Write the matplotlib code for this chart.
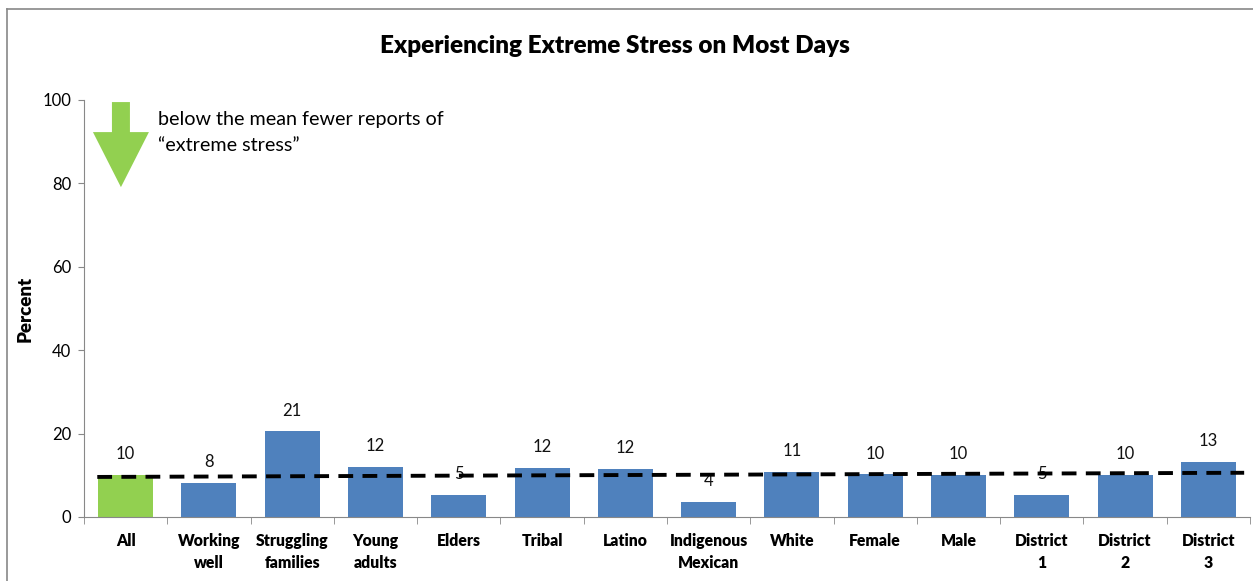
import matplotlib.pyplot as plt
from matplotlib.patches import Polygon
from matplotlib.lines import Line2D

categories = ["All", "Working\nwell", "Struggling\nfamilies", "Young\nadults", "Elders",
              "Tribal", "Latino", "Indigenous\nMexican", "White", "Female", "Male",
              "District\n1", "District\n2", "District\n3"]
values = [10.1, 8.2, 20.5, 12.0, 5.2, 11.8, 11.5, 3.6, 10.8, 10.2, 10.0, 5.3, 10.1, 13.2]
labels = ["10", "8", "21", "12", "5", "12", "12", "4", "11", "10", "10", "5", "10", "13"]
mean_line = [9.6, 10.6]
mean_x = [-0.34, 13.43]

colors = ["#92D050"] + ["#4F81BD"] * (len(categories) - 1)

plt.rcParams['font.family'] = ['Lato', 'DejaVu Sans']

fig = plt.figure(figsize=(12.53, 5.81), dpi=100)
ax = fig.add_axes([0.0670, 0.1102, 0.9306, 0.7177])

x = list(range(len(categories)))
ax.bar(x, values, width=0.66, color=colors, zorder=2)

for xi, v, lab in zip(x, values, labels):
    ax.annotate(lab, xy=(xi, v), xytext=(0, 15), textcoords="offset points",
                ha="center", va="center", fontsize=12, color="#111111")

ax.plot(mean_x, mean_line, color="black", lw=2.8, dashes=(3.8, 2.4), zorder=3)

ax.set_xlim(-0.5, len(categories) - 0.5)
ax.set_ylim(0, 100)
ax.set_yticks([0, 20, 40, 60, 80, 100])
ax.tick_params(axis="y", direction="out", length=4, color="#888888", labelsize=12, pad=5)

ax.set_xticks(x)
ax.set_xticklabels(categories, fontweight="heavy", fontsize=11.3, linespacing=1.5)
ax.tick_params(axis="x", length=0, pad=11.5)
ax.set_xticks([i - 0.5 for i in range(len(categories) + 1)], minor=True)
ax.tick_params(axis="x", which="minor", direction="out", length=5, color="#888888")

for s in ["top", "right"]:
    ax.spines[s].set_visible(False)
for s in ["left", "bottom"]:
    ax.spines[s].set_color("#888888")

ax.set_ylabel("Percent", fontweight="heavy", fontsize=13.5, va="center")
ax.yaxis.set_label_coords(-0.0506, 0.5)

fig.text(0.491, 0.921, "Experiencing Extreme Stress on Most Days", ha="center", va="center",
         fontsize=17.5, fontweight="heavy")

# green arrow
arrow = Polygon([(-0.164, 99.5), (0.052, 99.5), (0.052, 92.3), (0.28, 92.3),
                 (-0.056, 79.1), (-0.392, 92.3), (-0.164, 92.3)],
                closed=True, facecolor="#92D050", edgecolor="none", clip_on=False, zorder=4)
ax.add_patch(arrow)
fig.text(158 / 1253, 1 - 132.5 / 581, "below the mean fewer reports of\n\u201cextreme stress\u201d",
         ha="left", va="center", fontsize=14.2, linespacing=1.62)

# chart border
fig.add_artist(Line2D([7 / 1253, 7 / 1253], [0, 1 - 9 / 581], color="#888888", lw=1.2))
fig.add_artist(Line2D([7 / 1253, 1], [1 - 9 / 581, 1 - 9 / 581], color="#888888", lw=1.2))

fig.savefig("out.png", dpi=100)
